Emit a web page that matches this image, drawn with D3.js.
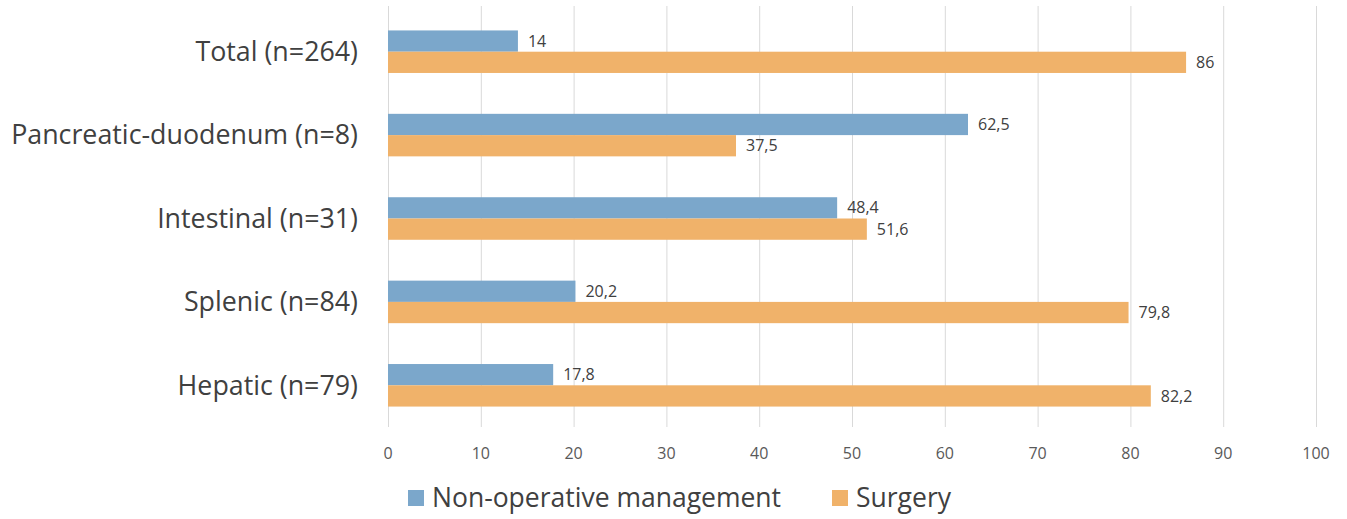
<!DOCTYPE html>
<html>
  <head>
    <style>
      body { margin: 0; background: #fff; }
      svg text { font-family: "Open Sans", sans-serif; }
    </style>
  </head>
  <body>
    <svg class="chart"></svg>
    <script src="https://d3js.org/d3.v7.min.js"></script>
    <script>
      var categories = ["Total (n=264)", "Pancreatic-duodenum (n=8)", "Intestinal (n=31)", "Splenic (n=84)", "Hepatic (n=79)"];
      var seriesNames = ["Non-operative management", "Surgery"];
      var nonOperative = [14, 62.5, 48.4, 20.2, 17.8];
      var surgery = [86, 37.5, 51.6, 79.8, 82.2];
      var xTicks = [0, 10, 20, 30, 40, 50, 60, 70, 80, 90, 100];
      var colors = ["#7ba7cb", "#f0b26a"];

      var width = 1347, height = 519;
      var plotLeft = 388, plotRight = 1316, plotTop = 10, plotBottom = 427;

      var svg = d3.select(".chart").attr("width", width).attr("height", height);

      var x = d3.scaleLinear().domain([0, 100]).range([plotLeft, plotRight]);
      var y = d3.scaleBand().domain(categories).range([plotTop, plotBottom]).paddingInner(0.49).paddingOuter(0.245);
      var ySub = d3.scaleBand().domain(seriesNames).range([0, y.bandwidth()]);

      // gridlines
      svg.append("g")
        .selectAll("line")
        .data(xTicks)
        .enter()
        .append("line")
        .attr("x1", function (d) { return x(d) + 0.5; })
        .attr("x2", function (d) { return x(d) + 0.5; })
        .attr("y1", 6)
        .attr("y2", 427)
        .attr("stroke", "#d9d9d9")
        .attr("stroke-width", 1);

      // tick labels
      svg.append("g")
        .selectAll("text")
        .data(xTicks)
        .enter()
        .append("text")
        .attr("x", function (d) { return x(d); })
        .attr("y", 459)
        .attr("text-anchor", "middle")
        .attr("fill", "#595959")
        .style("font-size", "16px")
        .text(function (d) { return d; });

      // category labels
      svg.append("g")
        .selectAll("text")
        .data(categories)
        .enter()
        .append("text")
        .attr("x", 358)
        .attr("y", function (d) { return y(d) + y.bandwidth() / 2; })
        .attr("dy", "0.35em")
        .attr("text-anchor", "end")
        .attr("fill", "#404040")
        .style("font-size", "26.8px")
        .text(function (d) { return d; });

      var rows = categories.map(function (c, i) {
        return [
          { cat: c, series: seriesNames[0], value: nonOperative[i], color: colors[0] },
          { cat: c, series: seriesNames[1], value: surgery[i], color: colors[1] }
        ];
      });
      var flat = [].concat.apply([], rows);

      var fmt = function (v) { return String(v).replace(".", ","); };

      var bar = svg.append("g")
        .selectAll("g")
        .data(flat)
        .enter()
        .append("g")
        .attr("transform", function (d) {
          return "translate(0," + (y(d.cat) + ySub(d.series)) + ")";
        });

      bar.append("rect")
        .attr("x", x(0))
        .attr("width", function (d) { return x(d.value) - x(0); })
        .attr("height", ySub.bandwidth())
        .attr("fill", function (d) { return d.color; });

      bar.append("text")
        .attr("x", function (d) { return x(d.value) + 10; })
        .attr("y", ySub.bandwidth() / 2)
        .attr("dy", "0.35em")
        .attr("fill", "#404040")
        .style("font-size", "16px")
        .text(function (d) { return fmt(d.value); });

      // legend
      var legendX = [408, 832];
      var legend = svg.append("g")
        .selectAll("g")
        .data(seriesNames)
        .enter()
        .append("g")
        .attr("transform", function (d, i) { return "translate(" + legendX[i] + ",490)"; });

      legend.append("rect")
        .attr("width", 16)
        .attr("height", 16)
        .attr("fill", function (d, i) { return colors[i]; });

      legend.append("text")
        .attr("x", 24)
        .attr("y", 8)
        .attr("dy", "0.35em")
        .attr("fill", "#404040")
        .style("font-size", "26.5px")
        .text(function (d) { return d; });
    </script>
  </body>
</html>
